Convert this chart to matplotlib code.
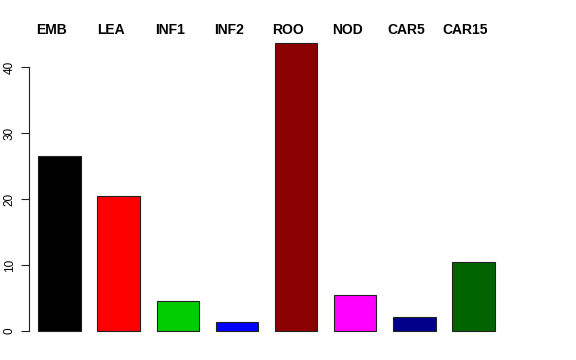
import numpy as np
import matplotlib
matplotlib.use("Agg")
import matplotlib.pyplot as plt

plt.rcParams['font.family'] = ['Liberation Sans', 'DejaVu Sans']

tissues = ["EMB", "LEA", "INF1", "INF2", "ROO", "NOD", "CAR5", "CAR15"]
values = [26.5, 20.5, 4.6, 1.4, 43.6, 5.4, 2.1, 10.5]
colors = ["black", "red", "#00CD00", "blue", "#8B0000", "magenta", "#00008B", "#006400"]

W, H = 576, 360
fig = plt.figure(figsize=(W / 100, H / 100), dpi=100)

px_per_unit_x = 42.26
x_left, x_right = 0.18, 12.0
y_top = 46.0
left_px, bottom_px = 29, 29
top_px = 331 - y_top * 6.6
ax = fig.add_axes([left_px / W, bottom_px / H,
                   (x_right - x_left) * px_per_unit_x / W,
                   (331 - top_px) / H])

pos = 0.9 + 1.4 * np.arange(len(values))
ax.bar(pos, values, width=1.0, color=colors, edgecolor="#222222",
       linewidth=0.8, clip_on=False)

for p, name in zip(pos, tissues):
    ax.text(p - 0.19, 45.65, name, ha="center", va="center",
            fontsize=10, fontweight="bold", clip_on=False)

ax.set_xlim(x_left, x_right)
ax.set_ylim(0, y_top)
ax.set_yticks([0, 10, 20, 30, 40])
ax.tick_params(axis="y", length=5.5, width=0.8, labelsize=8.5, pad=4,
               labelrotation=90, colors="#222222", labelcolor="black")
for lab in ax.get_yticklabels():
    lab.set_va("center")
ax.spines["left"].set_bounds(0, 40)
ax.spines["left"].set_linewidth(0.8)
ax.spines["left"].set_color("#222222")
for s in ["top", "right", "bottom"]:
    ax.spines[s].set_visible(False)
ax.set_xticks([])

fig.savefig("out.png", dpi=100)
